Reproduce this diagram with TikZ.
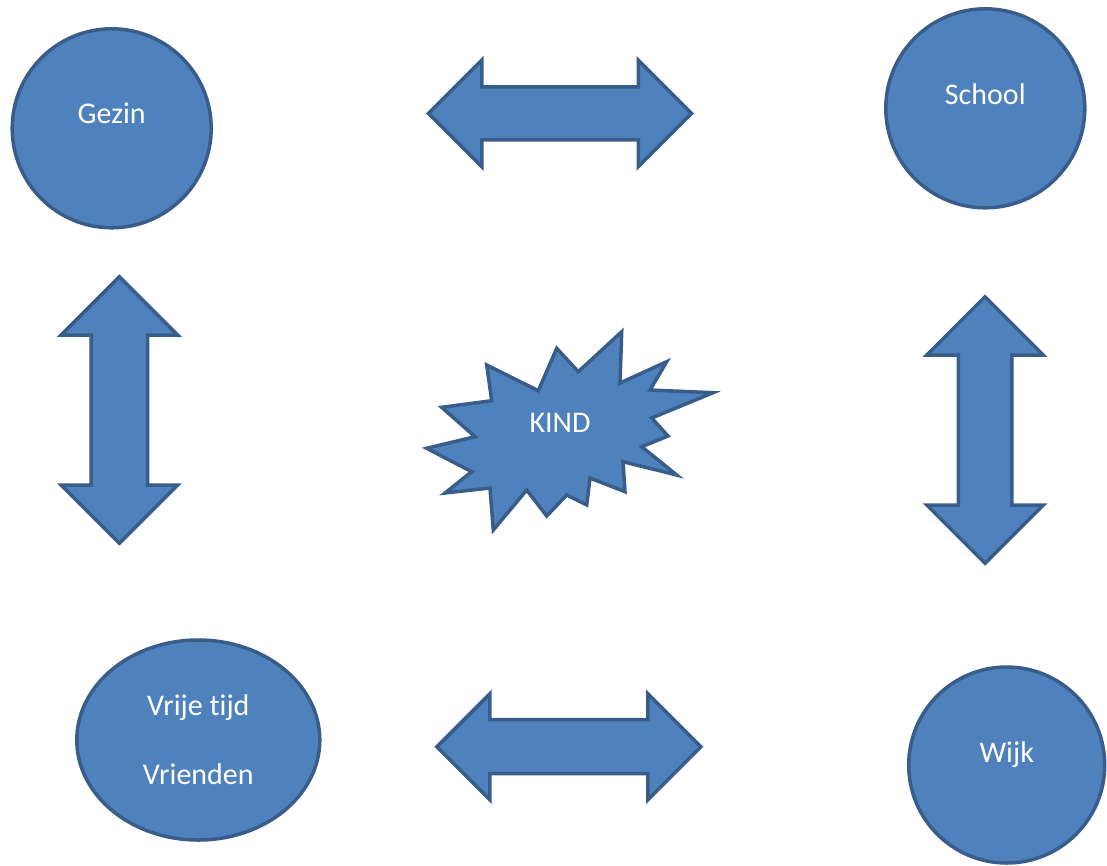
\documentclass[tikz,border=0pt]{standalone}
\usepackage{fontspec}
\setmainfont{Carlito}[Ligatures={NoCommon,NoContextual}]
\usetikzlibrary{shapes.geometric}
\usetikzlibrary{shapes.arrows}
\definecolor{vulblauw}{HTML}{4F81BD}
\definecolor{randblauw}{HTML}{385D8A}
\begin{document}
\begin{tikzpicture}[x=1pt, y=-1pt, every node/.style={inner sep=0pt, text=white, font=\fontsize{30}{36}\selectfont},
	vlak/.style={fill=vulblauw, draw=randblauw, line width=3.5pt},
	bol/.style={vlak, circle, minimum size=199pt},
	pijl/.style={vlak, double arrow, double arrow tip angle=90}]
		\useasboundingbox (0,0) rectangle (1107,865);
		%Omgevingen
		\node [bol, label={[yshift=15pt]center:Gezin}] (gezin) at (111.7,128.3) {};
		\node [bol, label={[yshift=14pt]center:School}] (school) at (985.3,108.3) {};
		\node [bol, minimum size=196pt, label={[yshift=10pt]center:Wijk}] (wijk) at (1006.7,765) {};
		\node [vlak, ellipse, minimum width=243pt, minimum height=200pt, align=center] (vrijetijd) at (198.3,740) {Vrije tijd\\[33pt]Vrienden};
		%Kind
		\draw [vlak] (621.7,331.7) -- (620,383) -- (666.7,361.7) -- (650,390) -- (713,392.7)
			-- (651.7,418) -- (668,436) -- (641.7,446.7) -- (676.7,475) -- (623,461.7)
			-- (625,491.7) -- (590,478) -- (586.7,505) -- (566.7,495) -- (546.7,516)
			-- (526.7,490) -- (493.3,530) -- (490,488) -- (445,493) -- (471.7,471.7)
			-- (426.7,448.3) -- (475,436.7) -- (441.7,407.3) -- (491.7,400.7) -- (486.7,365)
			-- (538.3,390.7) -- (556.7,348.3) -- (578.3,371.7) -- cycle;
		\node (kind) at (560,423) {KIND};
		%Pijlen
		\node [pijl, minimum height=263pt, inner ysep=24.75pt, double arrow head extend=26.75pt] (gezinschool) at (560,113.3) {};
		\node [pijl, rotate=90, minimum height=266.5pt, inner ysep=26.5pt, double arrow head extend=30pt] (gezinvrij) at (119.4,410) {};
		\node [pijl, rotate=90, minimum height=266.5pt, inner ysep=25pt, double arrow head extend=31.5pt] (schoolwijk) at (985,430) {};
		\node [pijl, minimum height=264pt, inner ysep=25.25pt, double arrow head extend=26pt] (vrijwijk) at (568.9,746.7) {};
\end{tikzpicture}
\end{document}
